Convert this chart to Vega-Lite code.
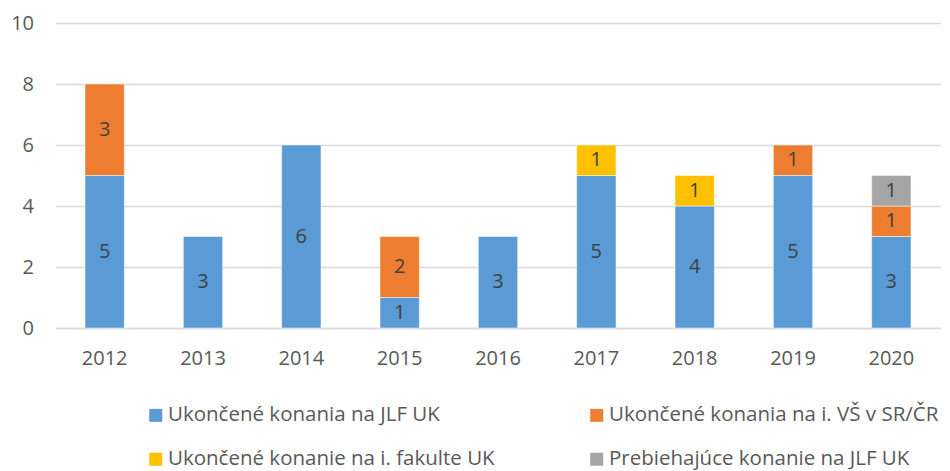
{
  "$schema": "https://vega.github.io/schema/vega-lite/v6.json",
  "width": 885,
  "height": 305,
  "autosize": {"type": "none"},
  "padding": {"left": 55.5, "top": 23, "right": 9.5, "bottom": 143},
  "background": "white",
  "config": {
    "font": "Open Sans",
    "view": {"stroke": null},
    "axis": {"labelFont": "Open Sans", "labelColor": "#595959", "labelFontSize": 20, "title": null}
  },
  "data": {
    "values": [
      {"year": "2012", "series": "Ukončené konania na JLF UK", "k": 1, "v": 5},
      {"year": "2012", "series": "Ukončené konania na i. VŠ v SR/ČR", "k": 2, "v": 3},
      {"year": "2013", "series": "Ukončené konania na JLF UK", "k": 1, "v": 3},
      {"year": "2014", "series": "Ukončené konania na JLF UK", "k": 1, "v": 6},
      {"year": "2015", "series": "Ukončené konania na JLF UK", "k": 1, "v": 1},
      {"year": "2015", "series": "Ukončené konania na i. VŠ v SR/ČR", "k": 2, "v": 2},
      {"year": "2016", "series": "Ukončené konania na JLF UK", "k": 1, "v": 3},
      {"year": "2017", "series": "Ukončené konania na JLF UK", "k": 1, "v": 5},
      {"year": "2017", "series": "Ukončené konanie na i. fakulte UK", "k": 3, "v": 1},
      {"year": "2018", "series": "Ukončené konania na JLF UK", "k": 1, "v": 4},
      {"year": "2018", "series": "Ukončené konanie na i. fakulte UK", "k": 3, "v": 1},
      {"year": "2019", "series": "Ukončené konania na JLF UK", "k": 1, "v": 5},
      {"year": "2019", "series": "Ukončené konania na i. VŠ v SR/ČR", "k": 2, "v": 1},
      {"year": "2020", "series": "Ukončené konania na JLF UK", "k": 1, "v": 3},
      {"year": "2020", "series": "Ukončené konania na i. VŠ v SR/ČR", "k": 2, "v": 1},
      {"year": "2020", "series": "Prebiehajúce konanie na JLF UK", "k": 4, "v": 1}
    ]
  },
  "encoding": {
    "x": {
      "field": "year", "type": "nominal",
      "scale": {"paddingInner": 0.6, "paddingOuter": 0.3},
      "axis": {"labelAngle": 0, "ticks": false, "domain": true, "domainColor": "#d9d9d9", "domainWidth": 1.5, "labelPadding": 20}
    }
  },
  "layer": [
    {
      "mark": {"type": "bar", "stroke": "white", "strokeWidth": 0.5},
      "encoding": {
        "y": {
          "field": "v", "type": "quantitative", "stack": "zero",
          "scale": {"domain": [0, 10]},
          "axis": {"values": [0, 2, 4, 6, 8, 10], "grid": true, "gridColor": "#d9d9d9", "gridWidth": 1.5, "domain": false, "ticks": false, "labelPadding": 22}
        },
        "order": {"field": "k", "type": "quantitative"},
        "color": {
          "field": "series", "type": "nominal",
          "scale": {
            "domain": ["Ukončené konania na JLF UK", "Ukončené konanie na i. fakulte UK", "Ukončené konania na i. VŠ v SR/ČR", "Prebiehajúce konanie na JLF UK"],
            "range": ["#5B9BD5", "#FFC000", "#ED7D31", "#A5A5A5"]
          },
          "legend": {
            "title": null,
            "orient": "none",
            "legendX": 90,
            "legendY": 382,
            "padding": 0,
            "columns": 2,
            "columnPadding": 91,
            "rowPadding": 23,
            "symbolType": "square",
            "symbolSize": 169,
            "symbolStrokeWidth": 0,
            "symbolOffset": 0,
            "labelFont": "Open Sans",
            "labelFontSize": 20.5,
            "labelColor": "#595959",
            "labelOffset": 2,
            "labelLimit": 500
          }
        }
      }
    },
    {
      "transform": [
        {"stack": "v", "groupby": ["year"], "sort": [{"field": "k", "order": "ascending"}], "as": ["y0", "y1"]},
        {"fold": ["y0", "y1"], "as": ["edge", "pos"]}
      ],
      "mark": {"type": "text", "font": "Open Sans", "fontSize": 20, "color": "#404040", "baseline": "middle"},
      "encoding": {
        "y": {"aggregate": "mean", "field": "pos", "type": "quantitative"},
        "detail": {"field": "series", "type": "nominal"},
        "text": {"aggregate": "max", "field": "v", "type": "quantitative"}
      }
    }
  ]
}
